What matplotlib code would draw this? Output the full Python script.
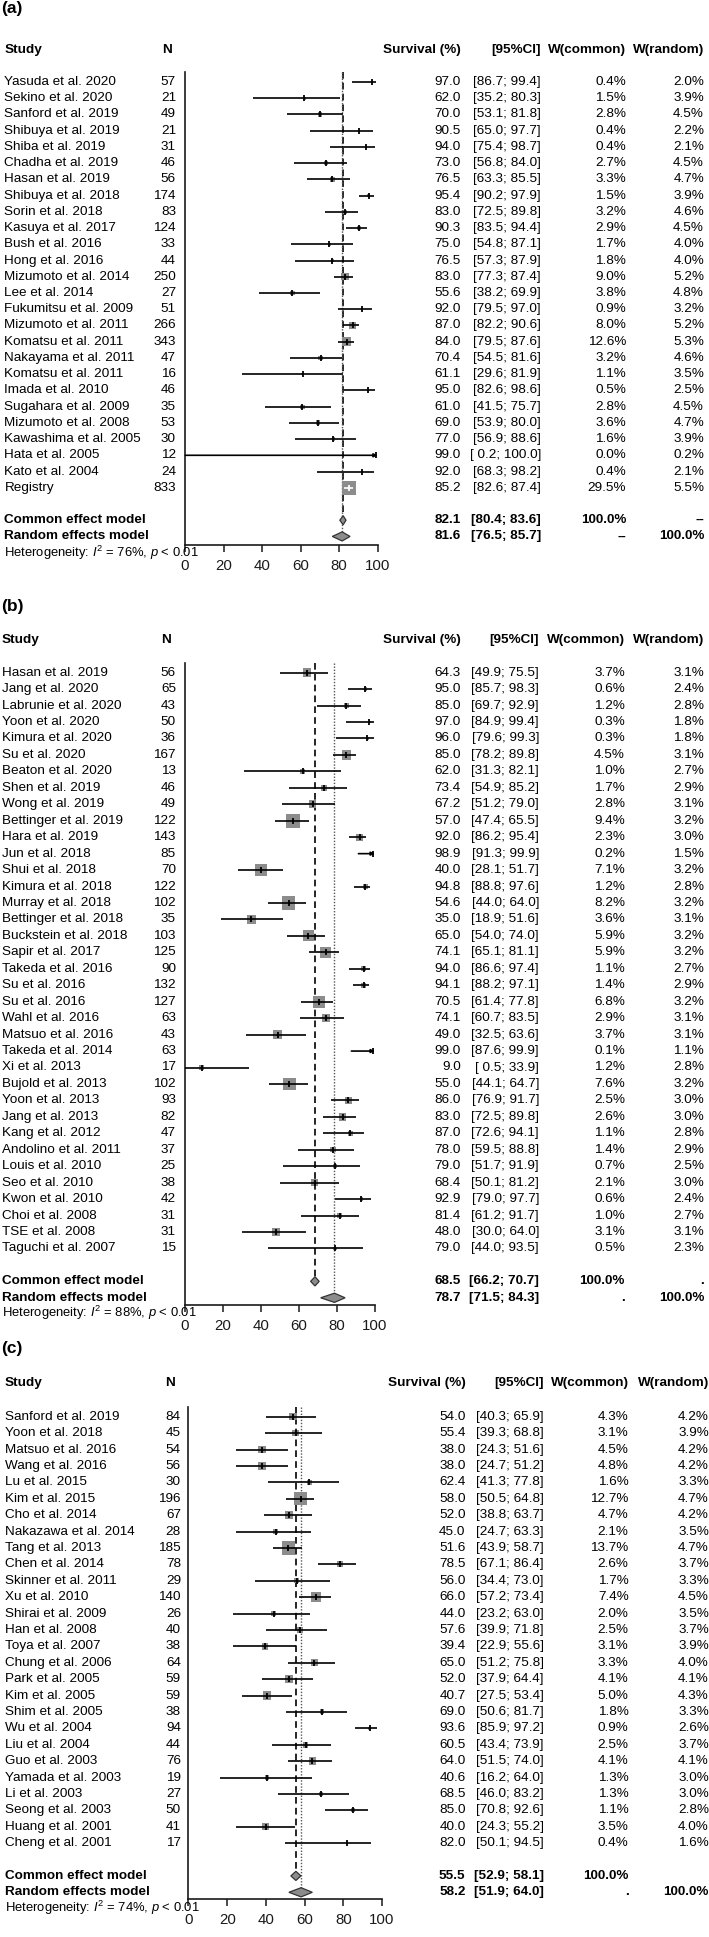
import numpy as np
import matplotlib
matplotlib.use("Agg")
import matplotlib.pyplot as plt
from matplotlib.patches import Polygon
from matplotlib.transforms import blended_transform_factory

plt.rcParams['font.family'] = ['Liberation Sans', 'DejaVu Sans']
plt.rcParams['mathtext.fontset'] = 'custom'
plt.rcParams['mathtext.rm'] = 'Liberation Sans'
plt.rcParams['mathtext.it'] = 'Liberation Sans:italic'
plt.rcParams['mathtext.bf'] = 'Liberation Sans:bold'

# ---- panel (a) ----
studies_a = ["Yasuda et al. 2020", "Sekino et al. 2020", "Sanford et al. 2019", "Shibuya et al. 2019",
             "Shiba et al. 2019", "Chadha et al. 2019", "Hasan et al. 2019", "Shibuya et al. 2018",
             "Sorin et al. 2018", "Kasuya et al. 2017", "Bush et al. 2016", "Hong et al. 2016",
             "Mizumoto et al. 2014", "Lee et al. 2014", "Fukumitsu et al. 2009", "Mizumoto et al. 2011",
             "Komatsu et al. 2011", "Nakayama et al. 2011", "Komatsu et al. 2011", "Imada et al. 2010",
             "Sugahara et al. 2009", "Mizumoto et al. 2008", "Kawashima et al. 2005", "Hata et al. 2005",
             "Kato et al. 2004", "Registry"]
n_a = [57, 21, 49, 21, 31, 46, 56, 174, 83, 124, 33, 44, 250, 27, 51, 266, 343, 47, 16, 46, 35, 53, 30, 12, 24, 833]
est_a = [97.0, 62.0, 70.0, 90.5, 94.0, 73.0, 76.5, 95.4, 83.0, 90.3, 75.0, 76.5, 83.0, 55.6, 92.0, 87.0,
         84.0, 70.4, 61.1, 95.0, 61.0, 69.0, 77.0, 99.0, 92.0, 85.2]
lo_a = [86.7, 35.2, 53.1, 65.0, 75.4, 56.8, 63.3, 90.2, 72.5, 83.5, 54.8, 57.3, 77.3, 38.2, 79.5, 82.2,
        79.5, 54.5, 29.6, 82.6, 41.5, 53.9, 56.9, 0.2, 68.3, 82.6]
hi_a = [99.4, 80.3, 81.8, 97.7, 98.7, 84.0, 85.5, 97.9, 89.8, 94.4, 87.1, 87.9, 87.4, 69.9, 97.0, 90.6,
        87.6, 81.6, 81.9, 98.6, 75.7, 80.0, 88.6, 100.0, 98.2, 87.4]
wc_a = [0.4, 1.5, 2.8, 0.4, 0.4, 2.7, 3.3, 1.5, 3.2, 2.9, 1.7, 1.8, 9.0, 3.8, 0.9, 8.0, 12.6, 3.2, 1.1,
        0.5, 2.8, 3.6, 1.6, 0.0, 0.4, 29.5]
wr_a = [2.0, 3.9, 4.5, 2.2, 2.1, 4.5, 4.7, 3.9, 4.6, 4.5, 4.0, 4.0, 5.2, 4.8, 3.2, 5.2, 5.3, 4.6, 3.5,
        2.5, 4.5, 4.7, 3.9, 0.2, 2.1, 5.5]
common_a = (82.1, 80.4, 83.6)
random_a = (81.6, 76.5, 85.7)
i2_a = 76

# ---- panel (b) ----
studies_b = ["Hasan et al. 2019", "Jang et al. 2020", "Labrunie et al. 2020", "Yoon et al. 2020",
             "Kimura et al. 2020", "Su et al. 2020", "Beaton et al. 2020", "Shen et al. 2019",
             "Wong et al. 2019", "Bettinger et al. 2019", "Hara et al. 2019", "Jun et al. 2018",
             "Shui et al. 2018", "Kimura et al. 2018", "Murray et al. 2018", "Bettinger et al. 2018",
             "Buckstein et al. 2018", "Sapir et al. 2017", "Takeda et al. 2016", "Su et al. 2016",
             "Su et al. 2016", "Wahl et al. 2016", "Matsuo et al. 2016", "Takeda et al. 2014",
             "Xi et al. 2013", "Bujold et al. 2013", "Yoon et al. 2013", "Jang et al. 2013",
             "Kang et al. 2012", "Andolino et al. 2011", "Louis et al. 2010", "Seo et al. 2010",
             "Kwon et al. 2010", "Choi et al. 2008", "TSE et al. 2008", "Taguchi et al. 2007"]
n_b = [56, 65, 43, 50, 36, 167, 13, 46, 49, 122, 143, 85, 70, 122, 102, 35, 103, 125, 90, 132, 127, 63,
       43, 63, 17, 102, 93, 82, 47, 37, 25, 38, 42, 31, 31, 15]
est_b = [64.3, 95.0, 85.0, 97.0, 96.0, 85.0, 62.0, 73.4, 67.2, 57.0, 92.0, 98.9, 40.0, 94.8, 54.6, 35.0,
         65.0, 74.1, 94.0, 94.1, 70.5, 74.1, 49.0, 99.0, 9.0, 55.0, 86.0, 83.0, 87.0, 78.0, 79.0, 68.4,
         92.9, 81.4, 48.0, 79.0]
lo_b = [49.9, 85.7, 69.7, 84.9, 79.6, 78.2, 31.3, 54.9, 51.2, 47.4, 86.2, 91.3, 28.1, 88.8, 44.0, 18.9,
        54.0, 65.1, 86.6, 88.2, 61.4, 60.7, 32.5, 87.6, 0.5, 44.1, 76.9, 72.5, 72.6, 59.5, 51.7, 50.1,
        79.0, 61.2, 30.0, 44.0]
hi_b = [75.5, 98.3, 92.9, 99.4, 99.3, 89.8, 82.1, 85.2, 79.0, 65.5, 95.4, 99.9, 51.7, 97.6, 64.0, 51.6,
        74.0, 81.1, 97.4, 97.1, 77.8, 83.5, 63.6, 99.9, 33.9, 64.7, 91.7, 89.8, 94.1, 88.8, 91.9, 81.2,
        97.7, 91.7, 64.0, 93.5]
wc_b = [3.7, 0.6, 1.2, 0.3, 0.3, 4.5, 1.0, 1.7, 2.8, 9.4, 2.3, 0.2, 7.1, 1.2, 8.2, 3.6, 5.9, 5.9, 1.1,
        1.4, 6.8, 2.9, 3.7, 0.1, 1.2, 7.6, 2.5, 2.6, 1.1, 1.4, 0.7, 2.1, 0.6, 1.0, 3.1, 0.5]
wr_b = [3.1, 2.4, 2.8, 1.8, 1.8, 3.1, 2.7, 2.9, 3.1, 3.2, 3.0, 1.5, 3.2, 2.8, 3.2, 3.1, 3.2, 3.2, 2.7,
        2.9, 3.2, 3.1, 3.1, 1.1, 2.8, 3.2, 3.0, 3.0, 2.8, 2.9, 2.5, 3.0, 2.4, 2.7, 3.1, 2.3]
common_b = (68.5, 66.2, 70.7)
random_b = (78.7, 71.5, 84.3)
i2_b = 88

# ---- panel (c) ----
studies_c = ["Sanford et al. 2019", "Yoon et al. 2018", "Matsuo et al. 2016", "Wang et al. 2016",
             "Lu et al. 2015", "Kim et al. 2015", "Cho et al. 2014", "Nakazawa et al. 2014",
             "Tang et al. 2013", "Chen et al. 2014", "Skinner et al. 2011", "Xu et al. 2010",
             "Shirai et al. 2009", "Han et al. 2008", "Toya et al. 2007", "Chung et al. 2006",
             "Park et al. 2005", "Kim et al. 2005", "Shim et al. 2005", "Wu et al. 2004",
             "Liu et al. 2004", "Guo et al. 2003", "Yamada et al. 2003", "Li et al. 2003",
             "Seong et al. 2003", "Huang et al. 2001", "Cheng et al. 2001"]
n_c = [84, 45, 54, 56, 30, 196, 67, 28, 185, 78, 29, 140, 26, 40, 38, 64, 59, 59, 38, 94, 44, 76, 19,
       27, 50, 41, 17]
est_c = [54.0, 55.4, 38.0, 38.0, 62.4, 58.0, 52.0, 45.0, 51.6, 78.5, 56.0, 66.0, 44.0, 57.6, 39.4, 65.0,
         52.0, 40.7, 69.0, 93.6, 60.5, 64.0, 40.6, 68.5, 85.0, 40.0, 82.0]
lo_c = [40.3, 39.3, 24.3, 24.7, 41.3, 50.5, 38.8, 24.7, 43.9, 67.1, 34.4, 57.2, 23.2, 39.9, 22.9, 51.2,
        37.9, 27.5, 50.6, 85.9, 43.4, 51.5, 16.2, 46.0, 70.8, 24.3, 50.1]
hi_c = [65.9, 68.8, 51.6, 51.2, 77.8, 64.8, 63.7, 63.3, 58.7, 86.4, 73.0, 73.4, 63.0, 71.8, 55.6, 75.8,
        64.4, 53.4, 81.7, 97.2, 73.9, 74.0, 64.0, 83.2, 92.6, 55.2, 94.5]
wc_c = [4.3, 3.1, 4.5, 4.8, 1.6, 12.7, 4.7, 2.1, 13.7, 2.6, 1.7, 7.4, 2.0, 2.5, 3.1, 3.3, 4.1, 5.0, 1.8,
        0.9, 2.5, 4.1, 1.3, 1.3, 1.1, 3.5, 0.4]
wr_c = [4.2, 3.9, 4.2, 4.2, 3.3, 4.7, 4.2, 3.5, 4.7, 3.7, 3.3, 4.5, 3.5, 3.7, 3.9, 4.0, 4.1, 4.3, 3.3,
        2.6, 3.7, 4.1, 3.0, 3.0, 2.8, 4.0, 1.6]
common_c = (55.5, 52.9, 58.1)
random_c = (58.2, 51.9, 64.0)
i2_c = 74

W, H = 709, 1937
FS = 9.7
SQ = '#8c8c8c'


def fmt_ci(lo, hi):
    return f"[{lo:4.1f}; {hi:.1f}]"


def forest(fig, label, lay, studies, n, est, lo, hi, wc, wr, common, random, i2, pooled_w):
    row0, step = lay['row0'], lay['step']
    top = -0.6
    bot = (lay['axis_y'] - row0) / step
    x0, x100 = lay['x0'], lay['x100']
    top_px = row0 + top * step
    ax = fig.add_axes([x0 / W, 1 - lay['axis_y'] / H, (x100 - x0) / W, (lay['axis_y'] - top_px) / H])
    ax.set_xlim(0, 100)
    ax.set_ylim(bot, top)
    for s in ['top', 'right']:
        ax.spines[s].set_visible(False)
    for s in ['left', 'bottom']:
        ax.spines[s].set_linewidth(1.2)
        ax.spines[s].set_color('#1a1a1a')
    ax.set_xticks(range(0, 101, 20))
    ax.tick_params(axis='x', length=5, width=1.1, labelsize=10.8, pad=5, colors='#1a1a1a')
    ax.tick_params(axis='y', left=False, labelleft=False)

    tr = blended_transform_factory(fig.transFigure, ax.transData)

    def txt(xpx, r, s, ha='right', bold=False, size=FS):
        ax.text(xpx / W, r, s, transform=tr, ha=ha, va='center', fontsize=size,
                fontweight='bold' if bold else 'normal')

    # header
    rh = (lay['header_y'] - row0) / step
    txt(lay['study_x'], rh, "Study", ha='left', bold=True)
    txt(lay['n_hx'], rh, "N", ha='center', bold=True)
    txt(lay['surv_x'], rh, "Survival (%)", bold=True)
    txt(lay['ci_x'], rh, "[95%CI]", bold=True)
    txt(lay['wc_x'], rh, "W(common)", bold=True)
    txt(lay['wr_x'], rh, "W(random)", bold=True)

    rows = np.arange(len(studies))
    px_per_unit = (x100 - x0) / 100
    side = lay['smax'] * np.sqrt(np.array(wc) / max(wc))
    ax.scatter(est, rows, s=(side * 0.72) ** 2, marker='s', color=SQ, linewidths=0, zorder=2, clip_on=False)
    for i in rows:
        inside = (hi[i] - lo[i]) < side[i] / px_per_unit
        c = 'white' if inside else 'black'
        if hi[i] >= 99.9:
            ax.annotate('', xy=(hi[i], i), xytext=(lo[i], i), annotation_clip=False,
                        arrowprops=dict(arrowstyle='-|>', color='k', lw=1.2, mutation_scale=5,
                                        shrinkA=0, shrinkB=0), zorder=3)
        else:
            ax.plot([lo[i], hi[i]], [i, i], color=c, lw=1.2, solid_capstyle='butt', zorder=3, clip_on=False)
        ax.plot(est[i], i, marker='|', ms=4.5, mew=1.3, color=c, zorder=4, clip_on=False)

        txt(lay['study_x'], i, studies[i], ha='left')
        txt(lay['n_x'], i, str(n[i]))
        txt(lay['surv_x'], i, f"{est[i]:.1f}")
        txt(lay['ci_x'], i, fmt_ci(lo[i], hi[i]))
        txt(lay['wc_x'], i, f"{wc[i]:.1f}%")
        txt(lay['wr_x'], i, f"{wr[i]:.1f}%")

    # pooled estimates
    h = 0.28
    rc, rr = len(studies) + 1, len(studies) + 2
    names = ["Common effect model", "Random effects model"]
    for k, (pool, r) in enumerate(((common, rc), (random, rr))):
        e, l, u = pool
        ax.add_patch(Polygon([[l, r], [e, r - h], [u, r], [e, r + h]], closed=True, fc=SQ,
                             ec='#333333', lw=0.9, zorder=3, clip_on=False))
        txt(lay['study_x'], r, names[k], ha='left', bold=True)
        txt(lay['surv_x'], r, f"{e:.1f}", bold=True)
        txt(lay['ci_x'], r, fmt_ci(l, u), bold=True)
        txt(lay['wc_x'], r, pooled_w[k][0], bold=True)
        txt(lay['wr_x'], r, pooled_w[k][1], bold=True)

    ax.vlines(common[0], top, rc - h, colors='k', linestyles=(0, (4, 2.5)), lw=1.2, zorder=1)
    ax.vlines(random[0], top, rr - h, colors='#555555', linestyles=(0, (1, 1.2)), lw=1.0, zorder=1)

    rhet = (lay['het_y'] - row0) / step
    txt(lay['study_x'], rhet, f"Heterogeneity: $I^2$ = {i2}%, $p$ < 0.01", ha='left', size=9.4)

    fig.text(1 / W, 1 - lay['lab_y'] / H, label, ha='left', va='center', fontsize=12.5, fontweight='bold')
    return ax


lay_a = dict(lab_y=8, header_y=50, row0=82, step=16.23, axis_y=545, het_y=553, x0=185, x100=377.6,
             study_x=4.5, n_x=176, n_hx=167, surv_x=461, ci_x=541, wc_x=626, wr_x=704, smax=13.5)
lay_b = dict(lab_y=607, header_y=640, row0=672.7, step=16.45, axis_y=1305, het_y=1313, x0=184.5, x100=375,
             study_x=1.5, n_x=176, n_hx=166, surv_x=461, ci_x=539, wc_x=625, wr_x=704, smax=14)
lay_c = dict(lab_y=1348, header_y=1383, row0=1416.7, step=16.4, axis_y=1899.3, het_y=1907.7, x0=188.5,
             x100=382, study_x=5, n_x=181, n_hx=170, surv_x=465.5, ci_x=544, wc_x=628.6, wr_x=709, smax=13.5)

fig = plt.figure(figsize=(W / 100, H / 100), dpi=100)
forest(fig, "(a)", lay_a, studies_a, n_a, est_a, lo_a, hi_a, wc_a, wr_a, common_a, random_a, i2_a,
       (("100.0%", "--"), ("--", "100.0%")))
forest(fig, "(b)", lay_b, studies_b, n_b, est_b, lo_b, hi_b, wc_b, wr_b, common_b, random_b, i2_b,
       (("100.0%", "."), (".", "100.0%")))
forest(fig, "(c)", lay_c, studies_c, n_c, est_c, lo_c, hi_c, wc_c, wr_c, common_c, random_c, i2_c,
       (("100.0%", ""), (".", "100.0%")))

fig.savefig("out.png", dpi=100)
